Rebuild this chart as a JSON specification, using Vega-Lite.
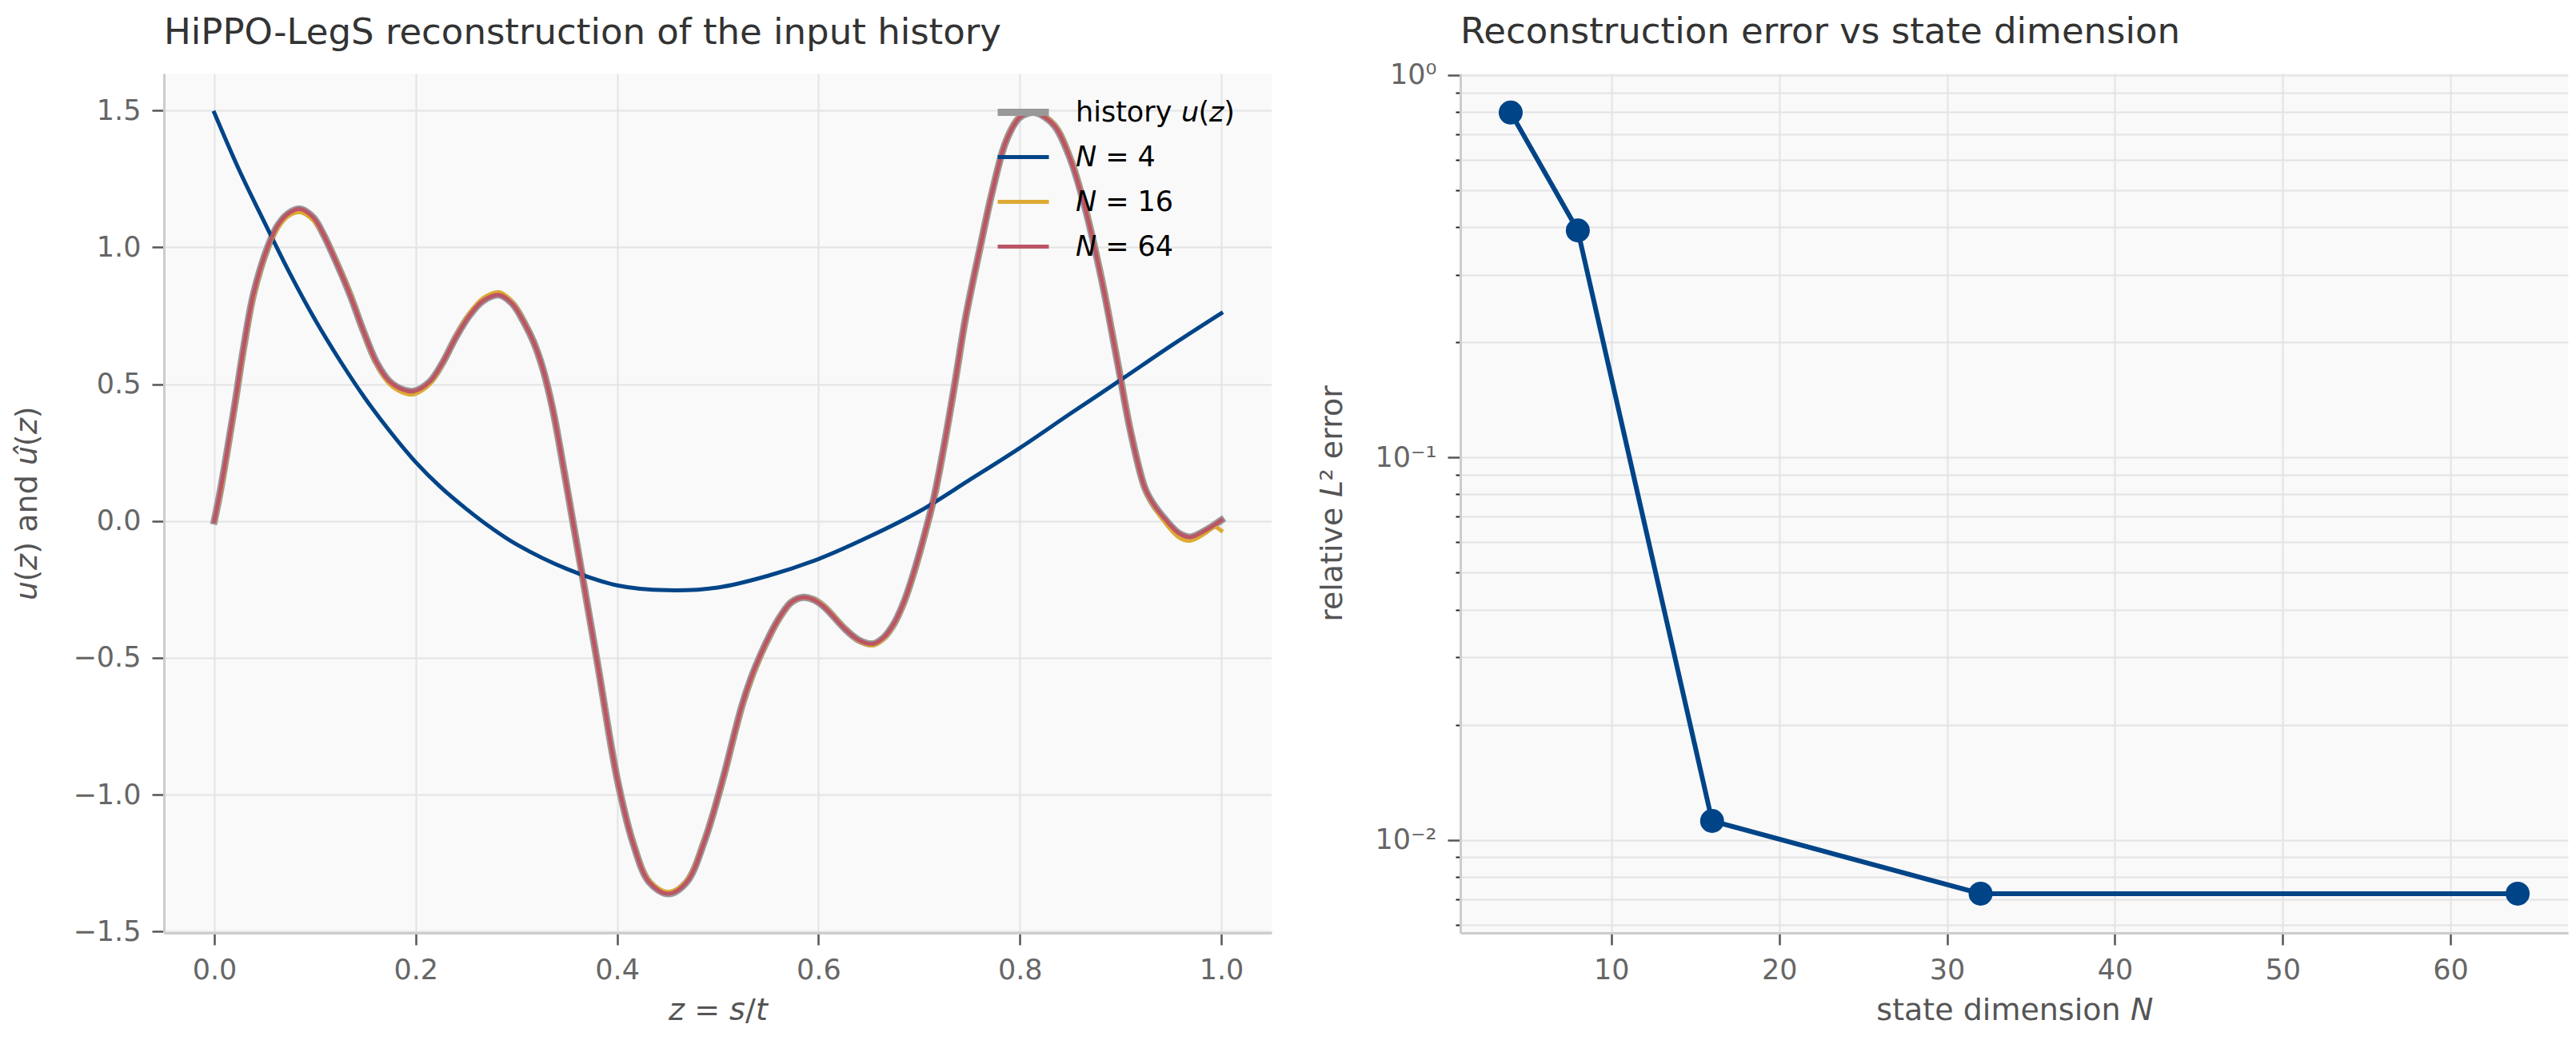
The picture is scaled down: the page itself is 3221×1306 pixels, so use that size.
{
  "$schema": "https://vega.github.io/schema/vega-lite/v6.json",
  "padding": {"left": 15, "top": 17, "right": 5, "bottom": 5},
  "bounds": "flush",
  "spacing": 236,
  "config": {
    "font": "DejaVu Sans",
    "view": {"fill": "#f9f9f9", "stroke": null},
    "axis": {
      "domainColor": "#cccccc", "domainWidth": 3,
      "tickColor": "#555555", "tickWidth": 2.5, "tickSize": 15,
      "labelFontSize": 35, "labelColor": "#666666", "labelPadding": 14,
      "titleFontSize": 38, "titleColor": "#555555", "titleFontWeight": "normal",
      "gridColor": "#e3e3e3", "gridWidth": 2
    },
    "axisX": {"titlePadding": 14},
    "legend": {"rowPadding": 3},
    "title": {"fontSize": 45, "fontWeight": "normal", "color": "#333333", "anchor": "start", "frame": "group"}
  },
  "datasets": {
    "curves": [
      {"s":"h","z":0.000,"u":0.000},{"s":"h","z":0.006,"u":0.11},{"s":"h","z":0.013,"u":0.26},{"s":"h","z":0.021,"u":0.44},{"s":"h","z":0.029,"u":0.63},{"s":"h","z":0.039,"u":0.83},{"s":"h","z":0.053,"u":1.00},{"s":"h","z":0.063,"u":1.08},{"s":"h","z":0.074,"u":1.125},{"s":"h","z":0.085,"u":1.14},{"s":"h","z":0.098,"u":1.11},{"s":"h","z":0.108,"u":1.05},{"s":"h","z":0.121,"u":0.947},{"s":"h","z":0.135,"u":0.825},{"s":"h","z":0.148,"u":0.695},{"s":"h","z":0.161,"u":0.58},{"s":"h","z":0.174,"u":0.51},{"s":"h","z":0.188,"u":0.479},{"s":"h","z":0.198,"u":0.474},{"s":"h","z":0.214,"u":0.509},{"s":"h","z":0.227,"u":0.58},{"s":"h","z":0.240,"u":0.672},{"s":"h","z":0.254,"u":0.754},{"s":"h","z":0.267,"u":0.805},{"s":"h","z":0.283,"u":0.826},{"s":"h","z":0.296,"u":0.794},{"s":"h","z":0.309,"u":0.716},{"s":"h","z":0.317,"u":0.655},{"s":"h","z":0.326,"u":0.56},{"s":"h","z":0.336,"u":0.41},{"s":"h","z":0.347,"u":0.19},{"s":"h","z":0.356,"u":0.00},{"s":"h","z":0.365,"u":-0.19},{"s":"h","z":0.381,"u":-0.53},{"s":"h","z":0.400,"u":-0.94},{"s":"h","z":0.416,"u":-1.178},{"s":"h","z":0.432,"u":-1.32},{"s":"h","z":0.451,"u":-1.362},{"s":"h","z":0.469,"u":-1.32},{"s":"h","z":0.487,"u":-1.167},{"s":"h","z":0.506,"u":-0.931},{"s":"h","z":0.515,"u":-0.80},{"s":"h","z":0.524,"u":-0.675},{"s":"h","z":0.533,"u":-0.575},{"s":"h","z":0.543,"u":-0.485},{"s":"h","z":0.552,"u":-0.415},{"s":"h","z":0.561,"u":-0.355},{"s":"h","z":0.573,"u":-0.297},{"s":"h","z":0.585,"u":-0.279},{"s":"h","z":0.596,"u":-0.289},{"s":"h","z":0.606,"u":-0.315},{"s":"h","z":0.627,"u":-0.397},{"s":"h","z":0.640,"u":-0.435},{"s":"h","z":0.654,"u":-0.449},{"s":"h","z":0.665,"u":-0.425},{"s":"h","z":0.675,"u":-0.375},{"s":"h","z":0.685,"u":-0.295},{"s":"h","z":0.695,"u":-0.185},{"s":"h","z":0.705,"u":-0.055},{"s":"h","z":0.715,"u":0.09},{"s":"h","z":0.725,"u":0.28},{"s":"h","z":0.736,"u":0.515},{"s":"h","z":0.746,"u":0.74},{"s":"h","z":0.760,"u":0.99},{"s":"h","z":0.773,"u":1.21},{"s":"h","z":0.786,"u":1.385},{"s":"h","z":0.799,"u":1.472},{"s":"h","z":0.808,"u":1.49},{"s":"h","z":0.816,"u":1.492},{"s":"h","z":0.834,"u":1.446},{"s":"h","z":0.850,"u":1.324},{"s":"h","z":0.865,"u":1.141},{"s":"h","z":0.881,"u":0.886},{"s":"h","z":0.897,"u":0.58},{"s":"h","z":0.910,"u":0.326},{"s":"h","z":0.924,"u":0.122},{"s":"h","z":0.932,"u":0.065},{"s":"h","z":0.945,"u":0.003},{"s":"h","z":0.958,"u":-0.045},{"s":"h","z":0.969,"u":-0.059},{"s":"h","z":0.984,"u":-0.035},{"s":"h","z":1.000,"u":0.003},

      {"s":"n4","z":0.000,"u":1.492},{"s":"n4","z":0.025,"u":1.28},{"s":"n4","z":0.050,"u":1.09},{"s":"n4","z":0.075,"u":0.905},{"s":"n4","z":0.100,"u":0.736},{"s":"n4","z":0.125,"u":0.585},{"s":"n4","z":0.150,"u":0.447},{"s":"n4","z":0.175,"u":0.325},{"s":"n4","z":0.200,"u":0.215},{"s":"n4","z":0.225,"u":0.123},{"s":"n4","z":0.250,"u":0.045},{"s":"n4","z":0.275,"u":-0.025},{"s":"n4","z":0.300,"u":-0.085},{"s":"n4","z":0.350,"u":-0.175},{"s":"n4","z":0.400,"u":-0.235},{"s":"n4","z":0.450,"u":-0.253},{"s":"n4","z":0.500,"u":-0.243},{"s":"n4","z":0.550,"u":-0.200},{"s":"n4","z":0.600,"u":-0.139},{"s":"n4","z":0.650,"u":-0.058},{"s":"n4","z":0.700,"u":0.035},{"s":"n4","z":0.750,"u":0.150},{"s":"n4","z":0.800,"u":0.267},{"s":"n4","z":0.850,"u":0.392},{"s":"n4","z":0.900,"u":0.515},{"s":"n4","z":0.950,"u":0.640},{"s":"n4","z":1.000,"u":0.759},

      {"s":"n16","z":0.000,"u":0.000},{"s":"n16","z":0.006,"u":0.10},{"s":"n16","z":0.013,"u":0.25},{"s":"n16","z":0.021,"u":0.43},{"s":"n16","z":0.029,"u":0.62},{"s":"n16","z":0.039,"u":0.82},{"s":"n16","z":0.053,"u":0.995},{"s":"n16","z":0.063,"u":1.07},{"s":"n16","z":0.074,"u":1.115},{"s":"n16","z":0.085,"u":1.128},{"s":"n16","z":0.098,"u":1.10},{"s":"n16","z":0.108,"u":1.05},{"s":"n16","z":0.121,"u":0.95},{"s":"n16","z":0.135,"u":0.83},{"s":"n16","z":0.148,"u":0.695},{"s":"n16","z":0.161,"u":0.575},{"s":"n16","z":0.174,"u":0.50},{"s":"n16","z":0.188,"u":0.468},{"s":"n16","z":0.198,"u":0.463},{"s":"n16","z":0.214,"u":0.50},{"s":"n16","z":0.227,"u":0.578},{"s":"n16","z":0.240,"u":0.675},{"s":"n16","z":0.254,"u":0.762},{"s":"n16","z":0.267,"u":0.815},{"s":"n16","z":0.283,"u":0.836},{"s":"n16","z":0.296,"u":0.80},{"s":"n16","z":0.309,"u":0.718},{"s":"n16","z":0.317,"u":0.655},{"s":"n16","z":0.326,"u":0.56},{"s":"n16","z":0.336,"u":0.41},{"s":"n16","z":0.347,"u":0.19},{"s":"n16","z":0.356,"u":0.00},{"s":"n16","z":0.365,"u":-0.19},{"s":"n16","z":0.381,"u":-0.53},{"s":"n16","z":0.400,"u":-0.94},{"s":"n16","z":0.416,"u":-1.175},{"s":"n16","z":0.432,"u":-1.315},{"s":"n16","z":0.451,"u":-1.355},{"s":"n16","z":0.469,"u":-1.315},{"s":"n16","z":0.487,"u":-1.165},{"s":"n16","z":0.506,"u":-0.935},{"s":"n16","z":0.515,"u":-0.805},{"s":"n16","z":0.524,"u":-0.68},{"s":"n16","z":0.533,"u":-0.58},{"s":"n16","z":0.543,"u":-0.49},{"s":"n16","z":0.552,"u":-0.418},{"s":"n16","z":0.561,"u":-0.358},{"s":"n16","z":0.573,"u":-0.298},{"s":"n16","z":0.585,"u":-0.28},{"s":"n16","z":0.596,"u":-0.288},{"s":"n16","z":0.606,"u":-0.312},{"s":"n16","z":0.627,"u":-0.395},{"s":"n16","z":0.640,"u":-0.438},{"s":"n16","z":0.654,"u":-0.455},{"s":"n16","z":0.665,"u":-0.43},{"s":"n16","z":0.675,"u":-0.378},{"s":"n16","z":0.685,"u":-0.298},{"s":"n16","z":0.695,"u":-0.19},{"s":"n16","z":0.705,"u":-0.06},{"s":"n16","z":0.715,"u":0.085},{"s":"n16","z":0.725,"u":0.275},{"s":"n16","z":0.736,"u":0.51},{"s":"n16","z":0.746,"u":0.735},{"s":"n16","z":0.760,"u":0.987},{"s":"n16","z":0.773,"u":1.21},{"s":"n16","z":0.786,"u":1.385},{"s":"n16","z":0.799,"u":1.475},{"s":"n16","z":0.808,"u":1.493},{"s":"n16","z":0.816,"u":1.495},{"s":"n16","z":0.834,"u":1.45},{"s":"n16","z":0.850,"u":1.328},{"s":"n16","z":0.865,"u":1.145},{"s":"n16","z":0.881,"u":0.89},{"s":"n16","z":0.897,"u":0.585},{"s":"n16","z":0.910,"u":0.33},{"s":"n16","z":0.924,"u":0.12},{"s":"n16","z":0.932,"u":0.06},{"s":"n16","z":0.945,"u":-0.01},{"s":"n16","z":0.958,"u":-0.060},{"s":"n16","z":0.969,"u":-0.072},{"s":"n16","z":0.984,"u":-0.045},{"s":"n16","z":0.993,"u":-0.022},{"s":"n16","z":1.000,"u":-0.035},

      {"s":"n64","z":0.000,"u":0.000},{"s":"n64","z":0.006,"u":0.11},{"s":"n64","z":0.013,"u":0.26},{"s":"n64","z":0.021,"u":0.44},{"s":"n64","z":0.029,"u":0.63},{"s":"n64","z":0.039,"u":0.83},{"s":"n64","z":0.053,"u":1.00},{"s":"n64","z":0.063,"u":1.08},{"s":"n64","z":0.074,"u":1.125},{"s":"n64","z":0.085,"u":1.14},{"s":"n64","z":0.098,"u":1.11},{"s":"n64","z":0.108,"u":1.05},{"s":"n64","z":0.121,"u":0.947},{"s":"n64","z":0.135,"u":0.825},{"s":"n64","z":0.148,"u":0.695},{"s":"n64","z":0.161,"u":0.58},{"s":"n64","z":0.174,"u":0.51},{"s":"n64","z":0.188,"u":0.479},{"s":"n64","z":0.198,"u":0.474},{"s":"n64","z":0.214,"u":0.509},{"s":"n64","z":0.227,"u":0.58},{"s":"n64","z":0.240,"u":0.672},{"s":"n64","z":0.254,"u":0.754},{"s":"n64","z":0.267,"u":0.805},{"s":"n64","z":0.283,"u":0.826},{"s":"n64","z":0.296,"u":0.794},{"s":"n64","z":0.309,"u":0.716},{"s":"n64","z":0.317,"u":0.655},{"s":"n64","z":0.326,"u":0.56},{"s":"n64","z":0.336,"u":0.41},{"s":"n64","z":0.347,"u":0.19},{"s":"n64","z":0.356,"u":0.00},{"s":"n64","z":0.365,"u":-0.19},{"s":"n64","z":0.381,"u":-0.53},{"s":"n64","z":0.400,"u":-0.94},{"s":"n64","z":0.416,"u":-1.178},{"s":"n64","z":0.432,"u":-1.32},{"s":"n64","z":0.451,"u":-1.362},{"s":"n64","z":0.469,"u":-1.32},{"s":"n64","z":0.487,"u":-1.167},{"s":"n64","z":0.506,"u":-0.931},{"s":"n64","z":0.515,"u":-0.80},{"s":"n64","z":0.524,"u":-0.675},{"s":"n64","z":0.533,"u":-0.575},{"s":"n64","z":0.543,"u":-0.485},{"s":"n64","z":0.552,"u":-0.415},{"s":"n64","z":0.561,"u":-0.355},{"s":"n64","z":0.573,"u":-0.297},{"s":"n64","z":0.585,"u":-0.279},{"s":"n64","z":0.596,"u":-0.289},{"s":"n64","z":0.606,"u":-0.315},{"s":"n64","z":0.627,"u":-0.397},{"s":"n64","z":0.640,"u":-0.435},{"s":"n64","z":0.654,"u":-0.449},{"s":"n64","z":0.665,"u":-0.425},{"s":"n64","z":0.675,"u":-0.375},{"s":"n64","z":0.685,"u":-0.295},{"s":"n64","z":0.695,"u":-0.185},{"s":"n64","z":0.705,"u":-0.055},{"s":"n64","z":0.715,"u":0.09},{"s":"n64","z":0.725,"u":0.28},{"s":"n64","z":0.736,"u":0.515},{"s":"n64","z":0.746,"u":0.74},{"s":"n64","z":0.760,"u":0.99},{"s":"n64","z":0.773,"u":1.21},{"s":"n64","z":0.786,"u":1.385},{"s":"n64","z":0.799,"u":1.472},{"s":"n64","z":0.808,"u":1.49},{"s":"n64","z":0.816,"u":1.492},{"s":"n64","z":0.834,"u":1.446},{"s":"n64","z":0.850,"u":1.324},{"s":"n64","z":0.865,"u":1.141},{"s":"n64","z":0.881,"u":0.886},{"s":"n64","z":0.897,"u":0.58},{"s":"n64","z":0.910,"u":0.326},{"s":"n64","z":0.924,"u":0.122},{"s":"n64","z":0.932,"u":0.065},{"s":"n64","z":0.945,"u":0.003},{"s":"n64","z":0.958,"u":-0.045},{"s":"n64","z":0.969,"u":-0.059},{"s":"n64","z":0.984,"u":-0.035},{"s":"n64","z":1.000,"u":0.003}
    ],
    "errors": [
      {"N": 4, "err": 0.797},
      {"N": 8, "err": 0.392},
      {"N": 16, "err": 0.0112},
      {"N": 32, "err": 0.00723},
      {"N": 64, "err": 0.00723}
    ]
  },
  "hconcat": [
    {
      "width": 1385,
      "height": 1075,
      "title": {"text": "HiPPO-LegS reconstruction of the input history", "offset": 28},
      "data": {"name": "curves"},
      "encoding": {
        "x": {"field": "z", "type": "quantitative",
              "scale": {"domain": [-0.05, 1.05], "nice": false, "zero": false},
              "axis": {"values": [0, 0.2, 0.4, 0.6, 0.8, 1.0], "format": ".1f", "title": "𝘻 = 𝘴/𝘵"}},
        "y": {"field": "u", "type": "quantitative",
              "scale": {"domain": [-1.505, 1.635], "nice": false, "zero": false},
              "axis": {"values": [-1.5, -1, -0.5, 0, 0.5, 1, 1.5], "format": ".1f", "title": "𝘶(𝘻) and 𝘶̂(𝘻)", "titlePadding": 38}},
        "color": {"field": "s", "type": "nominal",
                  "scale": {"domain": ["h", "n4", "n16", "n64"], "range": ["#999999", "#004488", "#DDAA33", "#BB5566"]},
                  "legend": {"orient": "none", "legendX": 1038, "legendY": 12, "title": null, "symbolType": "stroke", "symbolSize": 4096, "labelFontSize": 35, "labelColor": "#000000", "labelOffset": 29, "labelLimit": 500, "rowPadding": 3, "padding": 0,
                             "labelExpr": "{'h': 'history 𝘶(𝘻)', 'n4': '𝘕 = 4', 'n16': '𝘕 = 16', 'n64': '𝘕 = 64'}[datum.label]"}},
        "strokeWidth": {"field": "s", "type": "nominal",
                  "scale": {"type": "ordinal", "domain": ["h", "n4", "n16", "n64"], "range": [9, 5, 5, 5]},
                  "legend": {"orient": "none", "legendX": 1038, "legendY": 12, "title": null, "symbolType": "stroke", "symbolSize": 4096, "labelFontSize": 35, "labelColor": "#000000", "labelOffset": 29, "labelLimit": 500, "rowPadding": 3, "padding": 0,
                             "labelExpr": "{'h': 'history 𝘶(𝘻)', 'n4': '𝘕 = 4', 'n16': '𝘕 = 16', 'n64': '𝘕 = 64'}[datum.label]"}}
      },
      "layer": [
        {"transform": [{"filter": "datum.s == 'h'"}], "mark": {"type": "line", "interpolate": "catmull-rom", "strokeCap": "square", "strokeJoin": "round"}},
        {"transform": [{"filter": "datum.s == 'n4'"}], "mark": {"type": "line", "interpolate": "catmull-rom", "strokeCap": "square", "strokeJoin": "round"}},
        {"transform": [{"filter": "datum.s == 'n16'"}], "mark": {"type": "line", "interpolate": "catmull-rom", "strokeCap": "square", "strokeJoin": "round"}},
        {"transform": [{"filter": "datum.s == 'n64'"}], "mark": {"type": "line", "interpolate": "catmull-rom", "strokeCap": "square", "strokeJoin": "round"}}
      ]
    },
    {
      "width": 1385,
      "height": 1075,
      "title": {"text": "Reconstruction error vs state dimension", "offset": 14},
      "data": {"name": "errors"},
      "encoding": {
        "x": {"field": "N", "type": "quantitative",
              "scale": {"domain": [1, 67], "nice": false, "zero": false},
              "axis": {"values": [10, 20, 30, 40, 50, 60], "format": "d", "title": "state dimension 𝘕"}},
        "y": {"field": "err", "type": "quantitative",
              "scale": {"type": "log", "domain": [0.00571, 1.008], "nice": false},
              "axis": {"values": [0.006, 0.007, 0.008, 0.009, 0.01, 0.02, 0.03, 0.04, 0.05, 0.06, 0.07, 0.08, 0.09, 0.1, 0.2, 0.3, 0.4, 0.5, 0.6, 0.7, 0.8, 0.9, 1],
                       "title": "relative 𝘓² error", "titlePadding": 33,
                       "labelExpr": "datum.value == 1 ? '10⁰' : (abs(datum.value - 0.1) < 1e-9 ? '10⁻¹' : (abs(datum.value - 0.01) < 1e-9 ? '10⁻²' : ''))",
                       "tickSize": {"condition": {"test": "datum.value == 1 || abs(datum.value - 0.1) < 1e-9 || abs(datum.value - 0.01) < 1e-9", "value": 16}, "value": 6},
                       "tickColor": {"condition": {"test": "datum.value == 1 || abs(datum.value - 0.1) < 1e-9 || abs(datum.value - 0.01) < 1e-9", "value": "#555555"}, "value": "#222222"},
                       "tickWidth": {"condition": {"test": "datum.value == 1 || abs(datum.value - 0.1) < 1e-9 || abs(datum.value - 0.01) < 1e-9", "value": 2.5}, "value": 2}}}
      },
      "layer": [
        {"mark": {"type": "line", "color": "#004488", "strokeWidth": 6}},
        {"mark": {"type": "point", "filled": true, "size": 900, "color": "#004488", "opacity": 1}}
      ]
    }
  ]
}
